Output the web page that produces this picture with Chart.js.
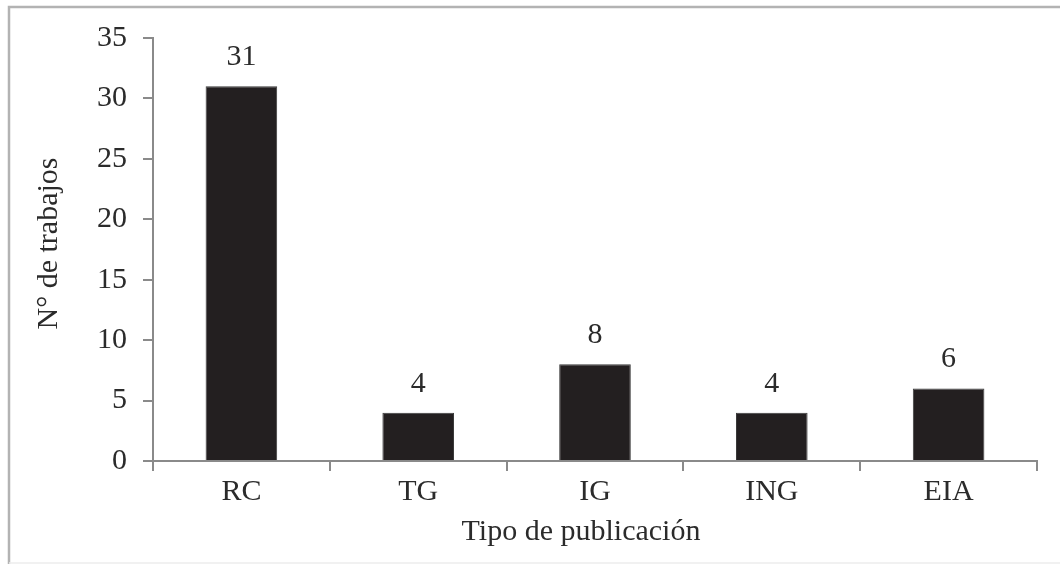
<!DOCTYPE html>
<html>
<head>
<meta charset="utf-8">
<script src="https://cdn.jsdelivr.net/npm/chart.js@4/dist/chart.umd.min.js"></script>
<style>
  html, body { margin: 0; padding: 0; background: #ffffff; }
  #wrap { width: 1060px; height: 564px; position: relative; }
</style>
</head>
<body>
<div id="wrap"><canvas id="chart" width="1060" height="564"></canvas></div>
<script>
// Publication types and number of works per type
const categories = ['RC', 'TG', 'IG', 'ING', 'EIA'];
const works = [31, 4, 8, 4, 6];
const yTicks = [0, 5, 10, 15, 20, 25, 30, 35];
const xTitle = 'Tipo de publicación';
const yTitle = 'N° de trabajos';

const FONT = '"Liberation Serif", "Times New Roman", serif';
const FONT_SIZE = 30;
const TEXT = '#2b2b2b';
const AXIS = '#8a8a8a';

// Outer frame, axis titles and value labels
const decorations = {
  id: 'decorations',
  beforeDraw(chart) {
    const c = chart.ctx;
    c.save();
    c.fillStyle = '#ffffff';
    c.fillRect(0, 0, chart.width, chart.height);
    c.strokeStyle = '#b3b3b3';
    c.lineWidth = 2.5;
    c.beginPath();
    c.moveTo(9, chart.height);
    c.lineTo(9, 7);
    c.lineTo(chart.width, 7);
    c.stroke();
    c.strokeStyle = '#ececec';
    c.lineWidth = 1.5;
    c.beginPath();
    c.moveTo(9, chart.height - 1);
    c.lineTo(chart.width, chart.height - 1);
    c.stroke();
    c.restore();
  },
  afterDraw(chart) {
    const c = chart.ctx;
    const area = chart.chartArea;
    c.save();
    c.fillStyle = TEXT;
    c.font = FONT_SIZE + 'px ' + FONT;
    c.textAlign = 'center';
    c.textBaseline = 'alphabetic';
    // value above each bar
    const meta = chart.getDatasetMeta(0);
    meta.data.forEach((bar, i) => {
      c.fillText(String(works[i]), bar.x, bar.y - 21);
    });
    // x axis title
    c.fillText(xTitle, (area.left + area.right) / 2 - 14, 540);
    // y axis title
    c.translate(57, (area.top + area.bottom) / 2 - 6);
    c.rotate(-Math.PI / 2);
    c.fillText(yTitle, 0, 0);
    c.restore();
  }
};

new Chart(document.getElementById('chart'), {
  type: 'bar',
  data: {
    labels: categories,
    datasets: [{
      data: works,
      backgroundColor: '#231f20',
      borderColor: '#3a3a3a',
      borderWidth: 1,
      barPercentage: 0.405,
      categoryPercentage: 1.0
    }]
  },
  options: {
    responsive: false,
    animation: false,
    events: [],
    layout: { padding: { left: 0, top: 38, right: 23, bottom: 0 } },
    plugins: {
      legend: { display: false },
      tooltip: { enabled: false }
    },
    scales: {
      x: {
        afterFit(scale) { scale.height = 103; },
        grid: {
          offset: true,
          drawOnChartArea: false,
          drawTicks: true,
          tickLength: 10,
          color: AXIS,
          lineWidth: 2
        },
        border: { display: true, color: AXIS, width: 2 },
        ticks: {
          color: TEXT,
          font: { family: FONT, size: FONT_SIZE },
          padding: 3
        }
      },
      y: {
        min: 0,
        max: 35,
        afterFit(scale) { scale.width = 153; },
        afterBuildTicks(scale) { scale.ticks = yTicks.map(v => ({ value: v })); },
        grid: {
          drawOnChartArea: false,
          drawTicks: true,
          tickLength: 10,
          color: AXIS,
          lineWidth: 2
        },
        border: { display: true, color: AXIS, width: 2 },
        ticks: {
          color: TEXT,
          font: { family: FONT, size: FONT_SIZE },
          padding: 16
        }
      }
    }
  },
  plugins: [decorations]
});
</script>
</body>
</html>
